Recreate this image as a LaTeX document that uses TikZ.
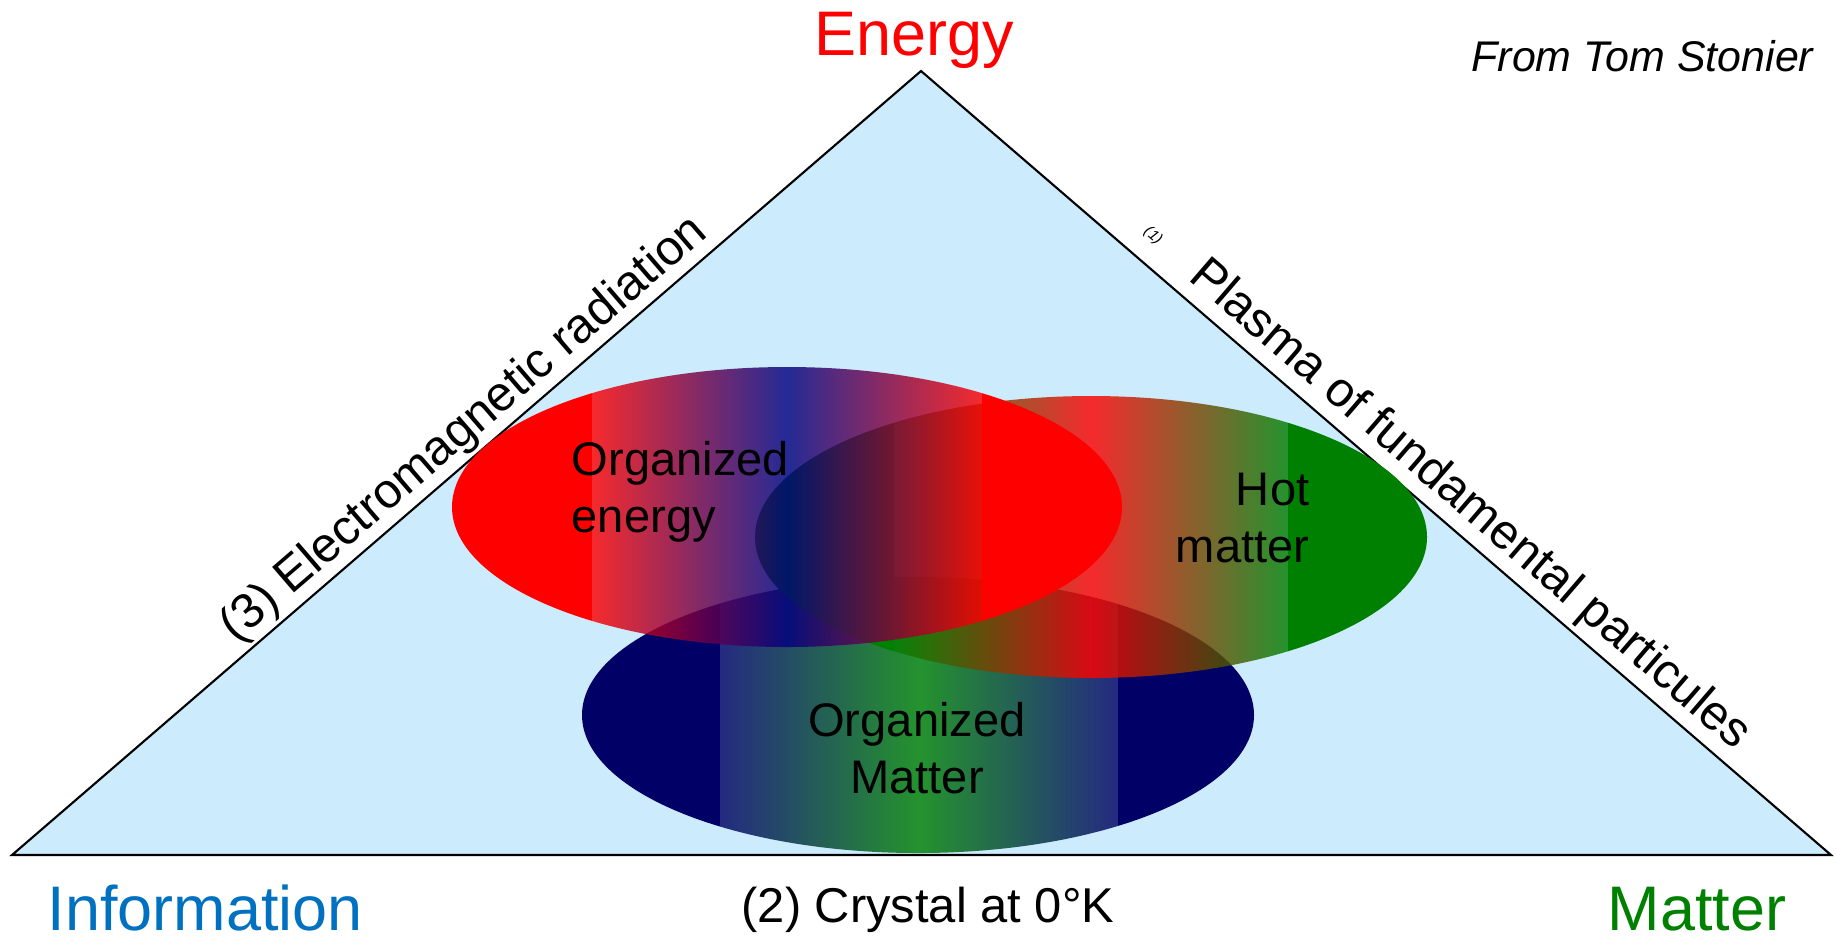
\documentclass[tikz,border=0pt]{standalone}
\usepackage{fontspec}
\setmainfont{Liberation Sans}
\usepackage{tikz}
\usetikzlibrary{calc}
\definecolor{energyRed}{RGB}{255,0,0}
\definecolor{matterGreen}{RGB}{0,128,0}
\definecolor{infoBlue}{RGB}{0,112,192}
\definecolor{navyDeep}{RGB}{0,0,102}
\definecolor{bandBlue}{RGB}{0,0,128}
\definecolor{skyFill}{RGB}{204,235,252}
\tikzset{
  tri/edge/.style={draw=black, line width=0.6pt, line join=miter, fill=skyFill},
  tri/corner/.style={font=\fontsize{17.9pt}{21pt}\selectfont, inner sep=0pt},
  tri/side/.style={font=\fontsize{13.9pt}{16pt}\selectfont, inner sep=0pt,
    sloped, anchor=base},
  tri/tiny/.style={font=\fontsize{4.3pt}{5pt}\selectfont\itshape, inner sep=0pt,
    sloped, anchor=center},
  tri/zone/.style={font=\fontsize{13.4pt}{16.2pt}\selectfont, inner sep=0pt,
    text=black},
  tri/band/.style={opacity=0.82}
}
\begin{document}
\begin{tikzpicture}[x=0.01cm, y=-0.01cm]
  \useasboundingbox (0,0) rectangle (1837,938);
  \coordinate (info) at (12,855);
  \coordinate (energy) at (921,71);
  \coordinate (matter) at (1831,855);
  \draw[tri/edge] (info) -- (energy) -- (matter) -- cycle;

  % organized matter (blue)
  \begin{scope}
    \clip (918,715) ellipse [x radius=336, y radius=138];
    \fill[navyDeep] (575,570) rectangle (720,860);
    \fill[navyDeep] (1118,570) rectangle (1260,860);
    \shade[tri/band, left color=navyDeep, right color=navyDeep,
      middle color=matterGreen] (720,570) rectangle (1118,860);
  \end{scope}

  % hot matter (green)
  \begin{scope}
    \clip (1091,537) ellipse [x radius=336, y radius=141];
    \fill[matterGreen] (750,390) rectangle (894,685);
    \fill[matterGreen] (1288,390) rectangle (1432,685);
    \shade[tri/band, left color=matterGreen, right color=matterGreen,
      middle color=energyRed] (894,390) rectangle (1288,685);
  \end{scope}

  % organized energy (red)
  \begin{scope}
    \clip (787,507) ellipse [x radius=335, y radius=140];
    \fill[energyRed] (445,360) rectangle (592,655);
    \fill[energyRed] (982,360) rectangle (1130,655);
    \shade[tri/band, left color=energyRed, right color=energyRed,
      middle color=bandBlue] (592,360) rectangle (982,655);
  \end{scope}

  % corners
  \node[tri/corner, text=energyRed, anchor=base] (lblE) at (914,55) {Energy};
  \node[tri/corner, text=infoBlue, anchor=base west] (lblI) at (47,930) {Information};
  \node[tri/corner, text=matterGreen, anchor=base east] (lblM) at (1787,930) {Matter};
  \node[font=\fontsize{12.2pt}{14pt}\selectfont\itshape, inner sep=0pt,
    anchor=base east] (src) at (1814,71) {From Tom Stonier};

  % sides
  \path (info) -- (energy)
    node[tri/side, pos=0.517, yshift=3.9pt] (s3) {(3) Electromagnetic radiation};
  \path (energy) -- (matter)
    node[tri/side, pos=0.582, yshift=4.6pt] (s1) {Plasma of fundamental particules}
    node[tri/tiny, pos=0.236, yshift=7.5pt] (n1) {(1)};
  \node[tri/side, sloped=false, anchor=base] (s2) at (928,922) {(2) Crystal at 0°K};

  % zones (base = last line)
  \node[tri/zone, align=left, anchor=base west] (zE) at (571,532)
    {Organized\\energy};
  \node[tri/zone, align=right, anchor=base east] (zH) at (1310,562)
    {Hot\\matter};
  \node[tri/zone, align=center, anchor=base] (zM) at (917,793)
    {Organized\\Matter};
\end{tikzpicture}
\end{document}
